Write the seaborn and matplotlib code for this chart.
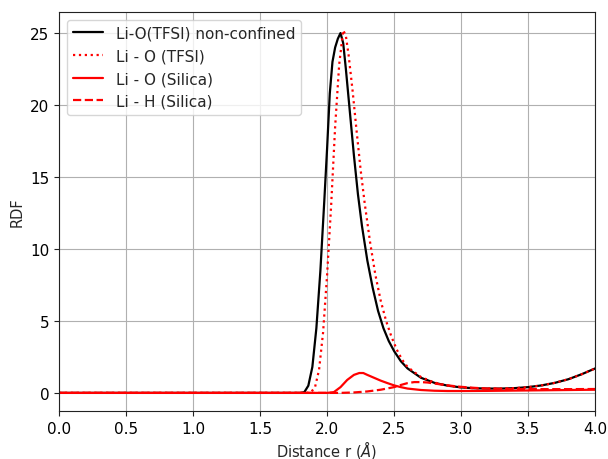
import numpy as np
import pandas as pd
import matplotlib
matplotlib.use("Agg")
import matplotlib.pyplot as plt
import seaborn as sns

# Li-O(TFSI) non-confined (black)
r_nc = [0.0, 1.0, 1.80, 1.83, 1.86, 1.89, 1.92, 1.95, 1.98, 2.00, 2.02, 2.04, 2.06, 2.08, 2.10, 2.12, 2.14, 2.17,
        2.20, 2.23, 2.26, 2.30, 2.34, 2.38, 2.42, 2.46, 2.50, 2.55, 2.60, 2.70, 2.80, 2.90, 3.00, 3.10,
        3.20, 3.30, 3.40, 3.50, 3.60, 3.70, 3.80, 3.90, 4.00]
g_nc = [0.0, 0.0, 0.0, 0.05, 0.5, 1.8, 4.5, 8.5, 13.5, 17.0, 20.8, 23.0, 24.0, 24.6, 25.0, 24.3, 22.5, 19.5,
        16.5, 13.8, 11.6, 9.2, 7.3, 5.7, 4.5, 3.6, 2.9, 2.2, 1.7, 1.05, 0.7, 0.5, 0.38, 0.32,
        0.3, 0.3, 0.33, 0.4, 0.52, 0.7, 0.95, 1.3, 1.7]

# Li - O (TFSI) (red dotted)
r_tfsi = [0.0, 1.0, 1.85, 1.88, 1.91, 1.94, 1.97, 2.00, 2.03, 2.06, 2.09, 2.12, 2.14, 2.16, 2.19, 2.22,
          2.25, 2.28, 2.32, 2.36, 2.40, 2.44, 2.48, 2.52, 2.56, 2.60, 2.70, 2.80, 2.90, 3.00, 3.10,
          3.20, 3.30, 3.40, 3.50, 3.60, 3.70, 3.80, 3.90, 4.00]
g_tfsi = [0.0, 0.0, 0.0, 0.05, 0.4, 1.6, 4.2, 8.2, 13.0, 18.5, 22.8, 25.2, 24.8, 23.5, 21.0, 18.2,
          15.5, 13.2, 10.5, 8.2, 6.4, 5.0, 3.9, 3.0, 2.3, 1.8, 1.1, 0.72, 0.5, 0.38, 0.32,
          0.3, 0.3, 0.33, 0.4, 0.52, 0.7, 0.95, 1.3, 1.7]

# Li - O (Silica) (red solid)
r_si = [0.0, 1.0, 2.0, 2.05, 2.10, 2.15, 2.20, 2.24, 2.27, 2.30, 2.35, 2.40, 2.45, 2.50, 2.55, 2.60,
        2.70, 2.80, 2.90, 3.00, 3.20, 3.40, 3.60, 3.80, 4.00]
g_si = [0.0, 0.0, 0.0, 0.05, 0.4, 0.9, 1.25, 1.38, 1.38, 1.25, 1.05, 0.85, 0.68, 0.52, 0.4, 0.3,
        0.2, 0.15, 0.13, 0.13, 0.14, 0.16, 0.18, 0.2, 0.22]

# Li - H (Silica) (red dashed)
r_h = [0.0, 1.0, 2.10, 2.20, 2.30, 2.40, 2.50, 2.55, 2.60, 2.65, 2.70, 2.75, 2.80, 2.90, 3.00,
       3.10, 3.20, 3.40, 3.60, 3.80, 4.00]
g_h = [0.0, 0.0, 0.0, 0.03, 0.1, 0.22, 0.4, 0.55, 0.68, 0.75, 0.75, 0.72, 0.65, 0.52, 0.42,
       0.35, 0.3, 0.27, 0.26, 0.26, 0.27]

sns.set_style("ticks")
plt.rcParams['font.family'] = ['DejaVu Sans']

fig = plt.figure(figsize=(6.08, 4.6), dpi=100)
ax = fig.add_axes([0.097, 0.1043, 0.882, 0.8674])

sns.lineplot(x=r_nc, y=g_nc, ax=ax, color="black", lw=1.6, label="Li-O(TFSI) non-confined", sort=False)
sns.lineplot(x=r_tfsi, y=g_tfsi, ax=ax, color="red", lw=1.6, linestyle=":", label="Li - O (TFSI)", sort=False)
sns.lineplot(x=r_si, y=g_si, ax=ax, color="red", lw=1.6, label="Li - O (Silica)", sort=False)
sns.lineplot(x=r_h, y=g_h, ax=ax, color="red", lw=1.6, linestyle="--", label="Li - H (Silica)", sort=False)

ax.set_xlim(0, 4)
ax.set_xticks(np.arange(0, 4.01, 0.5))
ax.set_yticks([0, 5, 10, 15, 20, 25])
ax.grid(True, color="#b0b0b0", lw=0.8)
for s in ax.spines.values():
    s.set_color("#222222")
    s.set_linewidth(0.8)
ax.tick_params(axis="both", colors="#222222", labelcolor="black", labelsize=11, length=3.5, width=0.8)
ax.set_xlabel("Distance r ($\\AA$)", fontsize=10.5, labelpad=1.5)
ax.set_ylabel("RDF", fontsize=10.5)
ax.legend(loc="upper left", fontsize=11, frameon=True, edgecolor="#cccccc", fancybox=True)

fig.savefig("out.png", dpi=100)
